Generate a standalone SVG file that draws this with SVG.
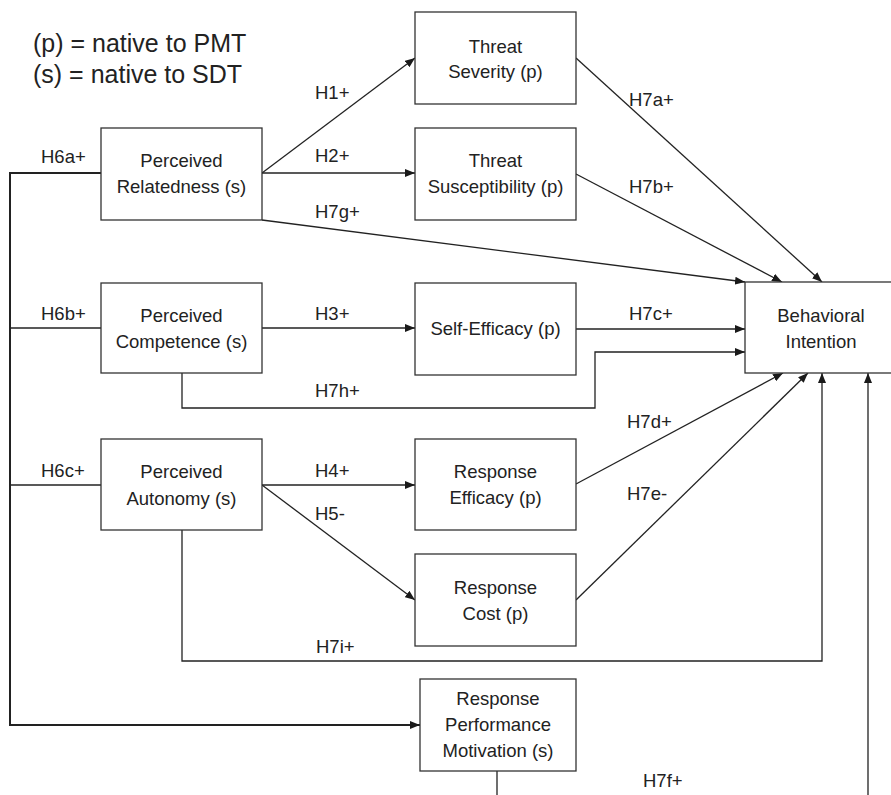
<svg xmlns="http://www.w3.org/2000/svg" width="891" height="795" viewBox="0 0 891 795">
<style>
  .box rect { fill: #ffffff; stroke: #333333; stroke-width: 1.3; }
  .box text, .lbl { font-family: "Liberation Sans", Arial, sans-serif; font-size: 18.5px; fill: #222222; }
  .box text { text-anchor: middle; }
  .legend { font-family: "Liberation Sans", Arial, sans-serif; font-size: 25px; fill: #222222; }
  .conn path { fill: none; stroke: #222222; stroke-width: 1.3; }
  .conn path.arr { marker-end: url(#ah); }
  .conn path.thick { stroke-width: 2; }
</style>
<defs>
  <marker id="ah" viewBox="0 0 10 8" refX="10" refY="4" markerWidth="10" markerHeight="8" markerUnits="userSpaceOnUse" orient="auto">
    <path d="M0,0 L10,4 L0,8 z" fill="#1a1a1a"/>
  </marker>
</defs>
<rect width="891" height="795" fill="#ffffff"/>

<g id="legend">
  <text class="legend" x="33" y="52">(p) = native to PMT</text>
  <text class="legend" x="33" y="83">(s) = native to SDT</text>
</g>

<g class="conn" id="connectors">
  <path class="thick arr" d="M101,173 L10,173 L10,725 L420,725"/>
  <path d="M10,328 L101,328"/>
  <path d="M10,485 L101,485"/>
  <path class="arr" d="M262,173 L415,58"/>
  <path class="arr" d="M262,173 L415,173"/>
  <path class="arr" d="M262,220 L745,282"/>
  <path class="arr" d="M576,58 L822,282"/>
  <path class="arr" d="M576,174 L782,282"/>
  <path class="arr" d="M576,329 L745,329"/>
  <path class="arr" d="M262,328 L415,328"/>
  <path class="arr" d="M182,373 L182,408 L595,408 L595,352 L745,352"/>
  <path class="arr" d="M262,485 L415,485"/>
  <path class="arr" d="M262,485 L415,600"/>
  <path class="arr" d="M576,484 L783,373"/>
  <path class="arr" d="M576,600 L808,373"/>
  <path class="arr" d="M182,530 L182,661 L822,661 L822,373"/>
  <path class="arr" d="M497,771 L497,805 L868,805 L868,373"/>
</g>

<g id="labels">
  <text class="lbl" x="41" y="163">H6a+</text>
  <text class="lbl" x="41" y="320">H6b+</text>
  <text class="lbl" x="41" y="477">H6c+</text>
  <text class="lbl" x="315" y="99">H1+</text>
  <text class="lbl" x="315" y="162">H2+</text>
  <text class="lbl" x="315" y="218">H7g+</text>
  <text class="lbl" x="629" y="106">H7a+</text>
  <text class="lbl" x="629" y="193">H7b+</text>
  <text class="lbl" x="629" y="320">H7c+</text>
  <text class="lbl" x="315" y="320">H3+</text>
  <text class="lbl" x="315" y="397">H7h+</text>
  <text class="lbl" x="315" y="477">H4+</text>
  <text class="lbl" x="315" y="520">H5-</text>
  <text class="lbl" x="627" y="428">H7d+</text>
  <text class="lbl" x="627" y="500">H7e-</text>
  <text class="lbl" x="316" y="653">H7i+</text>
  <text class="lbl" x="643" y="787">H7f+</text>
</g>

<g class="box" id="node-relatedness">
  <rect x="101" y="128" width="161" height="92"/>
  <text x="181.5" y="167">Perceived</text>
  <text x="181.5" y="193">Relatedness (s)</text>
</g>
<g class="box" id="node-competence">
  <rect x="101" y="283" width="161" height="90"/>
  <text x="181.5" y="322">Perceived</text>
  <text x="181.5" y="348">Competence (s)</text>
</g>
<g class="box" id="node-autonomy">
  <rect x="101" y="439" width="161" height="91"/>
  <text x="181.5" y="478">Perceived</text>
  <text x="181.5" y="505">Autonomy (s)</text>
</g>
<g class="box" id="node-severity">
  <rect x="415" y="12" width="161" height="92"/>
  <text x="495.5" y="53">Threat</text>
  <text x="495.5" y="78">Severity (p)</text>
</g>
<g class="box" id="node-susceptibility">
  <rect x="415" y="128" width="161" height="92"/>
  <text x="495.5" y="167">Threat</text>
  <text x="495.5" y="193">Susceptibility (p)</text>
</g>
<g class="box" id="node-selfefficacy">
  <rect x="415" y="283" width="161" height="92"/>
  <text x="495.5" y="335">Self-Efficacy (p)</text>
</g>
<g class="box" id="node-responseefficacy">
  <rect x="415" y="439" width="161" height="91"/>
  <text x="495.5" y="478">Response</text>
  <text x="495.5" y="504">Efficacy (p)</text>
</g>
<g class="box" id="node-responsecost">
  <rect x="415" y="554" width="161" height="92"/>
  <text x="495.5" y="594">Response</text>
  <text x="495.5" y="620">Cost (p)</text>
</g>
<g class="box" id="node-rpm">
  <rect x="420" y="679" width="156" height="92"/>
  <text x="498" y="705">Response</text>
  <text x="498" y="731">Performance</text>
  <text x="498" y="757">Motivation (s)</text>
</g>
<g class="box" id="node-intention">
  <rect x="745" y="282" width="155" height="91"/>
  <text x="821" y="322">Behavioral</text>
  <text x="821" y="348">Intention</text>
</g>
</svg>
